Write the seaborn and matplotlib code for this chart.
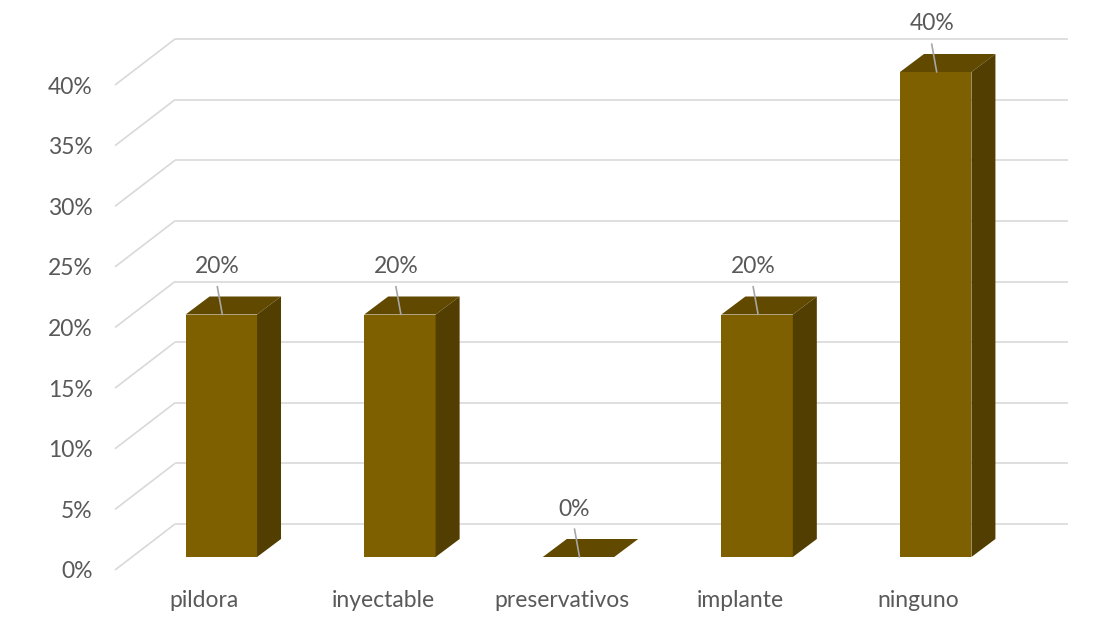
import numpy as np
import pandas as pd
import matplotlib
matplotlib.use("Agg")
import matplotlib.pyplot as plt
import seaborn as sns
from matplotlib.patches import Polygon

# ---- data ----
categories = ["pildora", "inyectable", "preservativos", "implante", "ninguno"]
values = [20, 20, 0, 20, 40]
yticks = [0, 5, 10, 15, 20, 25, 30, 35, 40]
value_labels = ["20%", "20%", "0%", "20%", "40%"]

# ---- style ----
FRONT = "#7f6000"
SIDE = "#523e00"
TOP = "#614900"
GRID = "#d9d9d9"
TEXT = "#595959"
LEADER = "#a6a6a6"
FS = 16.5

sns.set_theme(style="white")
plt.rcParams['font.family'] = ['Lato', 'DejaVu Sans']

W, H = 1108, 634
fig = plt.figure(figsize=(W / 100, H / 100), dpi=100)
ax = fig.add_axes([115 / W, 64 / H, 893 / W, 485 / H])

df = pd.DataFrame({"metodo": categories, "pct": values})
sns.barplot(data=df, x="metodo", y="pct", width=0.4, color=FRONT,
            saturation=1, ax=ax, zorder=3, edgecolor="none")
ax.set_xlim(-0.5, len(categories) - 0.5)
ax.set_ylim(0, 40)
for s in ax.spines.values():
    s.set_visible(False)
ax.grid(False)
ax.set_xlabel("")
ax.set_ylabel("")


def px(dx, dy):
    inv = ax.transData.inverted()
    p0 = inv.transform((0, 0))
    p1 = inv.transform((dx, dy))
    return p1[0] - p0[0], p1[1] - p0[1]


bx, by = px(17, 13)      # bar front plane offset from front floor
wx, wy = px(60, 46)      # back wall offset
dx, dy = px(24, 18)      # bar depth
lx, ly = px(-4, 48)      # label offset
ex, ey = px(-4, 28)      # leader line

# back wall grid + left side wall diagonals
x_left, x_right = -0.5, len(categories) - 0.5
for t in yticks:
    ax.plot([x_left + wx, x_right + wx], [t + wy, t + wy], color=GRID, lw=1.2,
            zorder=1, clip_on=False, solid_capstyle="butt")
    ax.plot([x_left, x_left + wx], [t, t + wy], color=GRID, lw=1.2,
            zorder=1, clip_on=False, solid_capstyle="butt")

# 3D bars
for patch, lab in zip(list(ax.patches), value_labels):
    x0 = patch.get_x() + bx
    w = patch.get_width()
    h = patch.get_height()
    patch.set_x(x0)
    patch.set_y(by)
    patch.set_clip_on(False)
    y1 = by + h
    top = Polygon([(x0, y1), (x0 + w, y1), (x0 + w + dx, y1 + dy), (x0 + dx, y1 + dy)],
                  closed=True, facecolor=TOP, edgecolor="none", zorder=4, clip_on=False)
    ax.add_patch(top)
    if h > 0:
        side = Polygon([(x0 + w, by), (x0 + w + dx, by + dy), (x0 + w + dx, y1 + dy), (x0 + w, y1)],
                       closed=True, facecolor=SIDE, edgecolor="none", zorder=4, clip_on=False)
        ax.add_patch(side)
    cx = x0 + w / 2
    ax.plot([cx + px(1, 0)[0], cx + ex], [y1, y1 + ey], color=LEADER, lw=1.2,
            zorder=5, clip_on=False)
    ax.text(cx + lx, y1 + ly, lab, ha="center", va="center", fontsize=FS,
            color=TEXT, clip_on=False, zorder=6)

ax.set_yticks(yticks)
ax.set_yticklabels([f"{t}%" for t in yticks])
ax.tick_params(axis="y", length=0, pad=16, labelsize=FS, labelcolor=TEXT)
ax.tick_params(axis="x", length=0, pad=14.5, labelsize=FS, labelcolor=TEXT)

fig.savefig("out.png", dpi=100, facecolor="white")
